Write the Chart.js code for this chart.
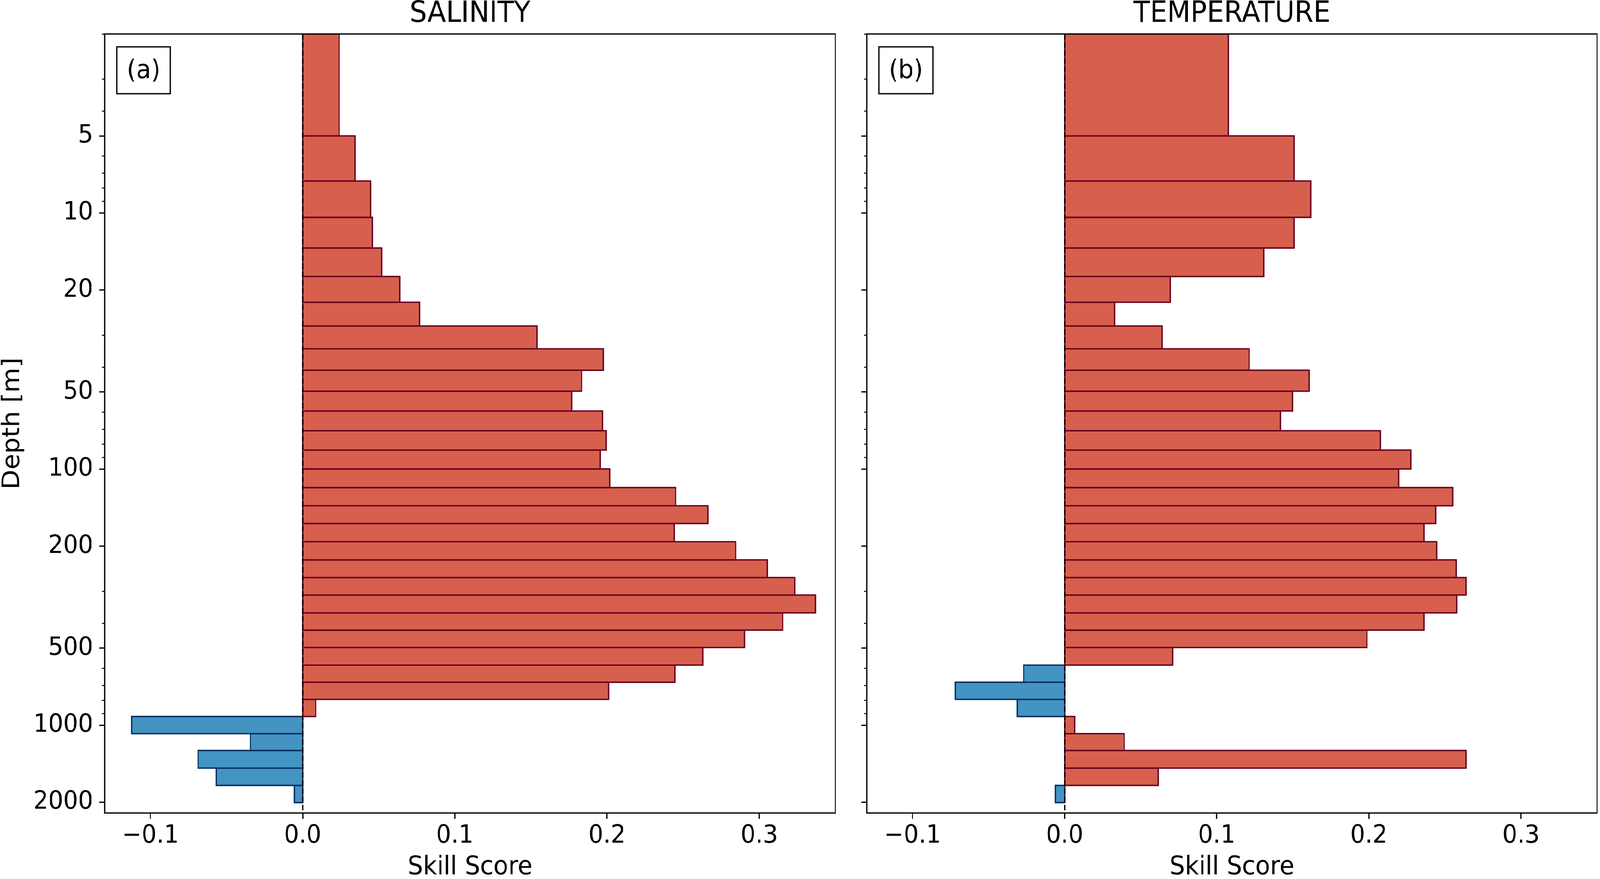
<!DOCTYPE html>
<html>
<head>
<meta charset="utf-8">
<title>Skill score profiles</title>
<script src="https://cdn.jsdelivr.net/npm/chart.js@4.4.1/dist/chart.umd.min.js"></script>
<style>
  html, body { margin: 0; padding: 0; background: #fff; overflow: hidden; }
  #outer { position: relative; overflow: hidden; width: 4367px; height: 2251px; }
  #wrap { position: absolute; left: 0; top: 0; width: 4367px; height: 2251px; transform-origin: 0 0; }
  canvas { position: absolute; top: 0; }
  #salinity { left: 0; }
  #temperature { left: 2290px; }
</style>
</head>
<body>
<div id="outer">
  <div id="wrap">
    <canvas id="salinity" width="2290" height="2251"></canvas>
    <canvas id="temperature" width="2077" height="2251"></canvas>
  </div>
</div>
<script>
// layer boundaries in metres (one more than the number of bars)
const layerEdges = [2, 5, 7.5, 10.4, 13.7, 17.7, 22.3, 27.6, 33.9, 41.1, 49.6, 59.3, 70.8, 84.2,
    99.8, 118, 139, 163, 192, 226, 265, 310, 364, 425, 497, 582, 679, 792, 924, 1078, 1254,
    1469, 1717, 2004];

// skill score per layer, top to bottom
const salinitySkill = [0.024, 0.0344, 0.0447, 0.0458, 0.052, 0.0639, 0.0768, 0.154, 0.1975,
    0.1833, 0.1768, 0.197, 0.1995, 0.1956, 0.2017, 0.2451, 0.2663, 0.2441, 0.2845, 0.3053,
    0.3234, 0.3369, 0.3154, 0.2903, 0.2629, 0.2445, 0.201, 0.0086, -0.1124, -0.0343, -0.0687,
    -0.0567, -0.0054];

const temperatureSkill = [0.1076, 0.1508, 0.1618, 0.1508, 0.1309, 0.0694, 0.0329, 0.0641,
    0.1213, 0.1608, 0.1498, 0.1419, 0.2076, 0.2276, 0.2196, 0.2551, 0.2439, 0.2362, 0.2445,
    0.2575, 0.2638, 0.2578, 0.2362, 0.1987, 0.0711, -0.0269, -0.0718, -0.0312, 0.0066, 0.0392,
    0.2638, 0.0615, -0.006];

const depthLabels = [5, 10, 20, 50, 100, 200, 500, 1000, 2000];
const skillTicks = [-0.1, 0.0, 0.1, 0.2, 0.3];

const DEPTH_MIN = 2;
const DEPTH_MAX = 2200;
const SKILL_MIN = -0.13;
const SKILL_MAX = 0.35;

const RED = '#d6604d';
const RED_EDGE = '#67001f';
const BLUE = '#4393c3';
const BLUE_EDGE = '#053061';
const LINE_W = 3.3;

// the layout is built for 4367x2251; stretch it onto the real window
const PAGE_W = 4367, PAGE_H = 2251;
const viewW = window.innerWidth || PAGE_W;
const viewH = window.innerHeight || PAGE_H;
const sx = viewW / PAGE_W;
const sy = viewH / PAGE_H;
const outer = document.getElementById('outer');
outer.style.width = viewW + 'px';
outer.style.height = viewH + 'px';
document.getElementById('wrap').style.transform = 'scale(' + sx + ',' + sy + ')';
const pixelRatio = Math.max(sx, sy) * (window.devicePixelRatio || 1);

Chart.defaults.font.family = '"DejaVu Sans", sans-serif';
Chart.defaults.color = '#000';

// all 1..9 x 10^n positions inside the depth range, labels only on depthLabels
function depthTicks() {
    const ticks = [];
    for (let p = 1; p <= 1000; p *= 10) {
        for (let m = 1; m <= 9; m++) {
            const v = m * p;
            if (v >= DEPTH_MIN && v <= DEPTH_MAX) ticks.push(v);
        }
    }
    return ticks;
}

function formatSkill(v) {
    return (v < 0 ? '\u2212' : '') + Math.abs(v).toFixed(1);
}

// one closed outline per layer, filled inside
function barDatasets(values) {
    return values.map((v, i) => {
        const top = layerEdges[i];
        const bottom = layerEdges[i + 1];
        const neg = v < 0;
        return {
            data: [
                { x: 0, y: top }, { x: v, y: top }, { x: v, y: bottom },
                { x: 0, y: bottom }, { x: 0, y: top }
            ],
            showLine: true,
            fill: 'shape',
            backgroundColor: neg ? BLUE : RED,
            borderColor: neg ? BLUE_EDGE : RED_EDGE,
            borderWidth: 3.6,
            borderJoinStyle: 'miter',
            borderCapStyle: 'square',
            pointRadius: 0,
            pointHoverRadius: 0,
            order: 1
        };
    });
}

function zeroLine() {
    return {
        data: [{ x: 0, y: DEPTH_MIN }, { x: 0, y: DEPTH_MAX }],
        showLine: true,
        fill: false,
        borderColor: '#000',
        borderWidth: LINE_W,
        borderDash: [14, 7],
        pointRadius: 0,
        pointHoverRadius: 0,
        order: 0
    };
}

// axes frame on top of the bars plus the (a)/(b) box
const panelFrame = {
    id: 'panelFrame',
    afterDatasetsDraw(chart, args, opts) {
        const { ctx, chartArea: a } = chart;
        ctx.save();
        ctx.strokeStyle = '#000';
        ctx.lineWidth = LINE_W;
        ctx.strokeRect(a.left, a.top, a.right - a.left, a.bottom - a.top);

        const size = 66;
        ctx.font = size + 'px "DejaVu Sans"';
        const w = ctx.measureText(opts.label).width + 54;
        const h = 120;
        const x = a.left + 33;
        const y = a.top + 33;
        ctx.fillStyle = '#fff';
        ctx.fillRect(x, y, w, h);
        ctx.strokeRect(x, y, w, h);
        ctx.fillStyle = '#000';
        ctx.textAlign = 'center';
        ctx.textBaseline = 'alphabetic';
        ctx.fillText(opts.label, x + w / 2, y + h / 2 + 0.31 * size);
        ctx.restore();
    }
};

function buildChart(canvasId, title, label, values, isLeft) {
    return new Chart(document.getElementById(canvasId), {
        type: 'scatter',
        data: { datasets: [zeroLine()].concat(barDatasets(values)) },
        options: {
            responsive: false,
            animation: false,
            devicePixelRatio: pixelRatio,
            events: [],
            layout: { padding: { left: 0, right: isLeft ? 10 : 8, top: 0, bottom: 0 } },
            plugins: {
                legend: { display: false },
                tooltip: { enabled: false },
                title: {
                    display: true,
                    text: title,
                    fullSize: false,
                    color: '#000',
                    font: { size: 74, weight: 'normal', lineHeight: 1.0 },
                    padding: { top: 0, bottom: 13 }
                },
                panelFrame: { label: label }
            },
            scales: {
                x: {
                    type: 'linear',
                    min: SKILL_MIN,
                    max: SKILL_MAX,
                    afterBuildTicks: scale => {
                        scale.ticks = skillTicks.map(v => ({ value: v }));
                    },
                    ticks: {
                        callback: v => formatSkill(v),
                        font: { size: 64 },
                        padding: 6,
                        maxRotation: 0,
                        autoSkip: false
                    },
                    grid: {
                        drawOnChartArea: false,
                        tickLength: 15,
                        tickWidth: LINE_W,
                        tickColor: '#000'
                    },
                    border: { display: false },
                    title: {
                        display: true,
                        text: 'Skill Score',
                        font: { size: 66, lineHeight: 0.88 },
                        padding: 0
                    },
                    afterFit: scale => { scale.height = 169; }
                },
                y: {
                    type: 'logarithmic',
                    reverse: true,
                    min: DEPTH_MIN,
                    max: DEPTH_MAX,
                    afterBuildTicks: scale => {
                        scale.ticks = depthTicks().map(v => ({ value: v }));
                    },
                    ticks: {
                        callback: v => (isLeft && depthLabels.includes(v)) ? String(v) : '',
                        font: { size: 64 },
                        padding: 17,
                        autoSkip: false
                    },
                    grid: {
                        drawOnChartArea: false,
                        tickLength: 15,
                        tickColor: '#000',
                        tickWidth: c => depthLabels.includes(c.tick.value) ? LINE_W : 2.5,
                        // minor ticks: only the inner 8px next to the spine
                        tickBorderDash: c => depthLabels.includes(c.tick.value) ? [] : [0, 7, 8, 100]
                    },
                    border: { display: false },
                    title: {
                        display: isLeft,
                        text: 'Depth [m]',
                        font: { size: 66, lineHeight: 1.0 },
                        padding: { top: 2, bottom: 0 }
                    },
                    afterFit: scale => { scale.width = isLeft ? 286 : 76; }
                }
            }
        },
        plugins: [panelFrame]
    });
}

buildChart('salinity', 'SALINITY', '(a)', salinitySkill, true);
buildChart('temperature', 'TEMPERATURE', '(b)', temperatureSkill, false);
</script>
</body>
</html>
